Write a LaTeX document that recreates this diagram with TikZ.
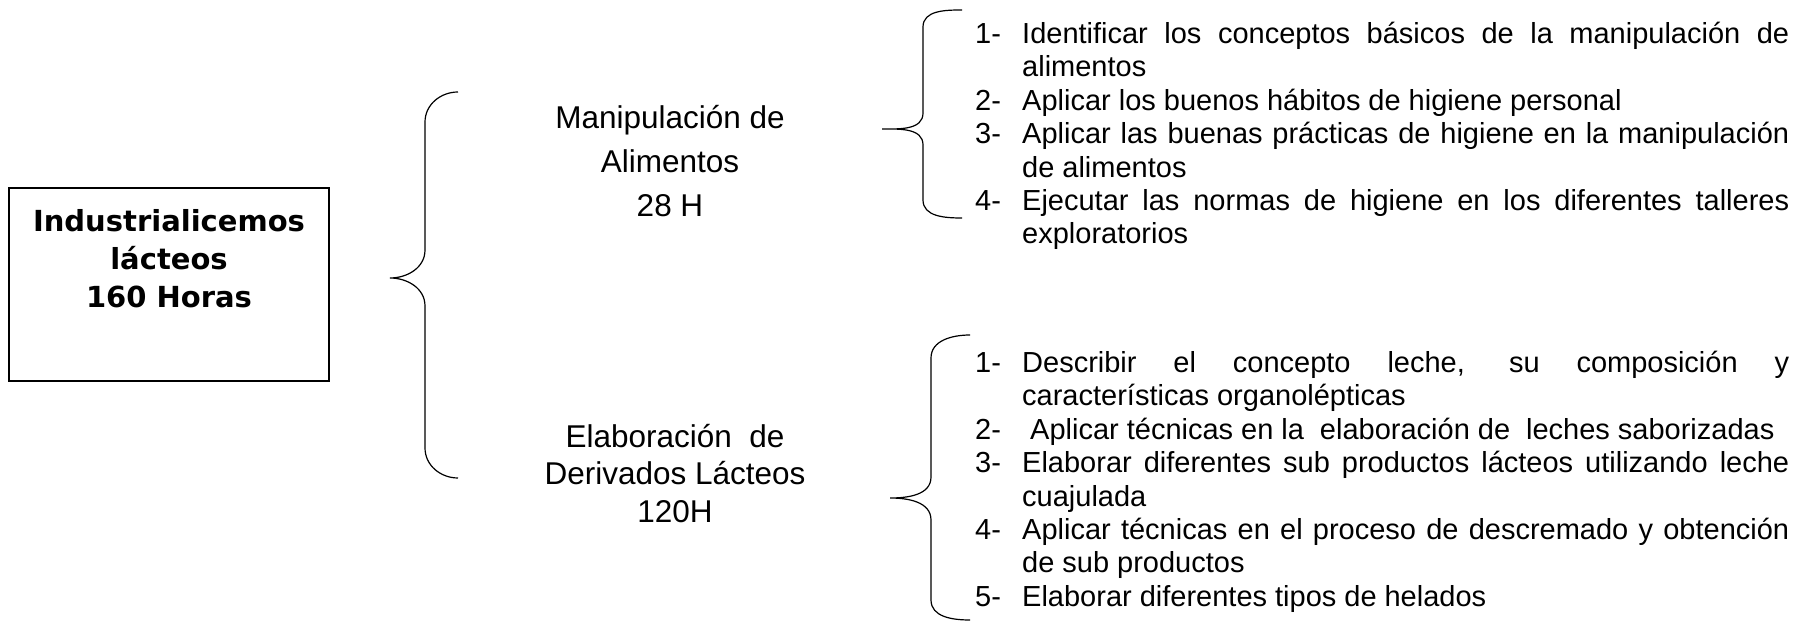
\documentclass[tikz,border=0pt]{standalone}
\usepackage{fontspec}
\setmainfont{Liberation Sans}
\newfontfamily\verdana{DejaVu Sans}
\newcommand\itemlista[1]{\par\noindent\makebox[47pt][l]{#1}\hangindent=47pt\hangafter=1\relax\ignorespaces}
\newcommand\ajustelista{\rightskip=0pt\relax\leftskip=0pt\relax\parfillskip=0pt plus 1fil\relax
  \spaceskip=8pt plus 40pt minus 2pt\relax\hyphenpenalty=10000\relax\tolerance=9999\relax}

\begin{document}
\begin{tikzpicture}[x=1pt,y=1pt,
    caja/.style={draw,line width=1.2pt,minimum width=320pt,minimum height=193pt,inner sep=0pt,align=center,
      font=\verdana\bfseries\fontsize{29}{38}\selectfont},
    modulo/.style={anchor=north,inner sep=0pt,align=center},
    lista/.style={anchor=north west,inner sep=0pt,text width=814pt,font=\fontsize{29}{33.4}\selectfont},
    llave/.style={line width=1.2pt}]
\useasboundingbox (0,0) rectangle (1799,621);
%curso
    \node[caja] (curso) at (169,336.5) {\rule{0pt}{24pt}Industrialicemos\\l\'acteos\\160 Horas\rule[-53pt]{0pt}{53pt}};
%modulos
    \node[modulo,font=\fontsize{31.5}{44}\selectfont] (manipulacion) at (670,521) {\rule{0pt}{28pt}Manipulación de\\Alimentos\\28 H};
    \node[modulo,font=\fontsize{31.5}{37.5}\selectfont] (elaboracion) at (675,202) {\rule{0pt}{28pt}Elaboración~~de\\Derivados Lácteos\\120H};
%objetivos
    \node[lista] (objmanip) at (975,611) {\ajustelista
      \itemlista{1-}\rule{0pt}{26pt}Identificar los conceptos básicos de la manipulación de alimentos
      \itemlista{2-}Aplicar los buenos hábitos de higiene personal
      \itemlista{3-}Aplicar las buenas prácticas de higiene en la manipulación de alimentos
      \itemlista{4-}Ejecutar las normas de higiene en los diferentes talleres exploratorios\par};
    \node[lista] (objelab) at (975,282) {\ajustelista
      \itemlista{1-}\rule{0pt}{26pt}Describir el concepto leche, su composición y características organolépticas
      \itemlista{2-}\ Aplicar técnicas en la~~elaboración de~~leches saborizadas
      \itemlista{3-}Elaborar diferentes sub productos lácteos utilizando leche cuajulada
      \itemlista{4-}Aplicar técnicas en el proceso de descremado y obtención de sub productos
      \itemlista{5-}Elaborar diferentes tipos de helados\par};
%llaves
    \draw[llave] (458,529) to[out=180,in=90] (425,499) -- (425,371) to[out=-90,in=0] (390,343)
        to[out=0,in=90] (425,315) -- (425,173) to[out=-90,in=180] (458,143);
    \draw[llave] (962,611) to[out=180,in=90] (923,594) -- (923,508) to[out=-90,in=0] (882,492)
        to[out=0,in=90] (923,476) -- (923,421) to[out=-90,in=180] (962,403);
    \draw[llave] (970,286) to[out=180,in=90] (931,263) -- (931,144) to[out=-90,in=0] (890,123)
        to[out=0,in=90] (931,101) -- (931,21) to[out=-90,in=180] (970,1);
\end{tikzpicture}
\end{document}
